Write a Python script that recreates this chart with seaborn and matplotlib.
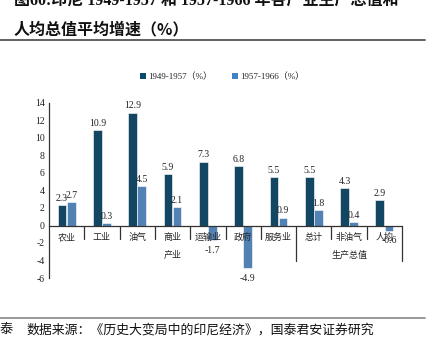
import matplotlib
matplotlib.use("Agg")
import matplotlib.pyplot as plt
import seaborn as sns
import pandas as pd
from matplotlib.lines import Line2D
from matplotlib.patches import Patch

categories = ["农业", "工业", "油气", "商业", "运输业", "政府", "服务业", "总计", "非油气", "人均"]
series_names = ["1949-1957（%）", "1957-1966（%）"]
growth_1949_1957 = [2.3, 10.9, 12.9, 5.9, 7.3, 6.8, 5.5, 5.5, 4.3, 2.9]
growth_1957_1966 = [2.7, 0.3, 4.5, 2.1, -1.7, -4.9, 0.9, 1.8, 0.4, -0.6]
group_labels = ["产业", "生产总值"]
group_sizes = [7, 3]
y_ticks = [-6, -4, -2, 0, 2, 4, 6, 8, 10, 12, 14]

dark_blue = "#064a70"
light_blue = "#4282c4"

sns.set_theme(style="white")
serif = ["Liberation Serif", "Noto Sans CJK SC"]
cjk = ["Noto Sans CJK SC", "DejaVu Sans"]
plt.rcParams["font.family"] = serif

df = pd.DataFrame({
    "category": categories * 2,
    "series": [series_names[0]] * len(categories) + [series_names[1]] * len(categories),
    "value": growth_1949_1957 + growth_1957_1966,
})

fig = plt.figure(figsize=(4.30, 3.45), dpi=100)
ax = fig.add_axes([49 / 430, 67 / 345, (402 - 49) / 430, (278 - 103) / 345])

sns.barplot(data=df, x="category", y="value", hue="series", order=categories,
            hue_order=series_names, palette=[dark_blue, light_blue],
            width=0.52, gap=0.05, edgecolor="white", linewidth=0.4,
            legend=False, ax=ax)

ax.set_ylim(-6, 14)
ax.set_xlim(-0.5, 9.5)
ax.set_yticks(y_ticks)
ax.set_yticklabels([str(t) for t in y_ticks], fontsize=7, color="#222222")
ax.tick_params(axis="y", direction="in", length=3, width=0.8, color="#333333", pad=3)
ax.tick_params(axis="x", length=0, labelbottom=False)
ax.set_xlabel("")
ax.set_ylabel("")
for side in ["top", "right"]:
    ax.spines[side].set_visible(False)
ax.spines["left"].set_color("#333333")
ax.spines["left"].set_linewidth(0.9)
ax.spines["bottom"].set_position(("data", 0))
ax.spines["bottom"].set_color("#333333")
ax.spines["bottom"].set_linewidth(0.9)

# value labels above positive bars, below negative bars
for container in ax.containers:
    for bar in container:
        h = bar.get_height()
        xc = bar.get_x() + bar.get_width() / 2
        if h >= 0:
            ax.text(xc, h + 0.25, f"{h:.1f}", ha="center", va="bottom",
                    fontsize=7, color="#222222")
        else:
            ax.text(xc, h - 0.6, f"{h:.1f}", ha="center", va="top",
                    fontsize=7, color="#222222")

# two-level category axis
for i, name in enumerate(categories):
    ax.text(i, -1.4, name, ha="center", va="center", fontsize=6.5,
            family=cjk, color="#222222")
boundaries = []
start = 0
for size in group_sizes:
    start += size
    boundaries.append(start - 0.5)
for b in range(1, len(categories) + 1):
    xb = b - 0.5
    y_end = -4.0 if xb in boundaries else -1.5
    ax.plot([xb, xb], [0, y_end], color="#333333", lw=0.9, clip_on=False)
start = 0
for label, size in zip(group_labels, group_sizes):
    center = start + (size - 1) / 2
    ax.text(center, -3.4, label, ha="center", va="center", fontsize=6.5,
            family=cjk, color="#222222")
    start += size

# legend
handles = [Patch(facecolor=dark_blue, edgecolor="none"),
           Patch(facecolor=light_blue, edgecolor="none")]
fig.legend(handles, series_names, loc="center", bbox_to_anchor=(222 / 430, 1 - 77 / 345),
           ncol=2, frameon=False, fontsize=6.5, handlelength=0.7, handleheight=0.7,
           handletextpad=0.2, columnspacing=2.2)

# header and source
fig.text(14 / 430, 1 - 1 / 345, "图60:印尼 1949-1957 和 1957-1966 年各产业生产总值和",
         ha="left", va="center", fontsize=11.5, fontweight="bold", family=serif, color="#111111")
fig.text(14 / 430, 1 - 29 / 345, "人均总值平均增速（%）", ha="left", va="center",
         fontsize=11.5, fontweight="bold", family=cjk, color="#111111")
fig.add_artist(Line2D([0, 425 / 430], [1 - 40 / 345, 1 - 40 / 345], color="#555555", lw=1.3))
fig.add_artist(Line2D([0, 425 / 430], [1 - 318 / 345, 1 - 318 / 345], color="#888888", lw=1.2))
fig.text(0, 1 - 330 / 345, "泰", ha="left", va="center", fontsize=9.5, family=cjk, color="#111111")
fig.text(26 / 430, 1 - 330 / 345, "数据来源：《历史大变局中的印尼经济》，国泰君安证券研究",
         ha="left", va="center", fontsize=9.3, family=cjk, color="#111111")

fig.savefig("out.png", dpi=100)
